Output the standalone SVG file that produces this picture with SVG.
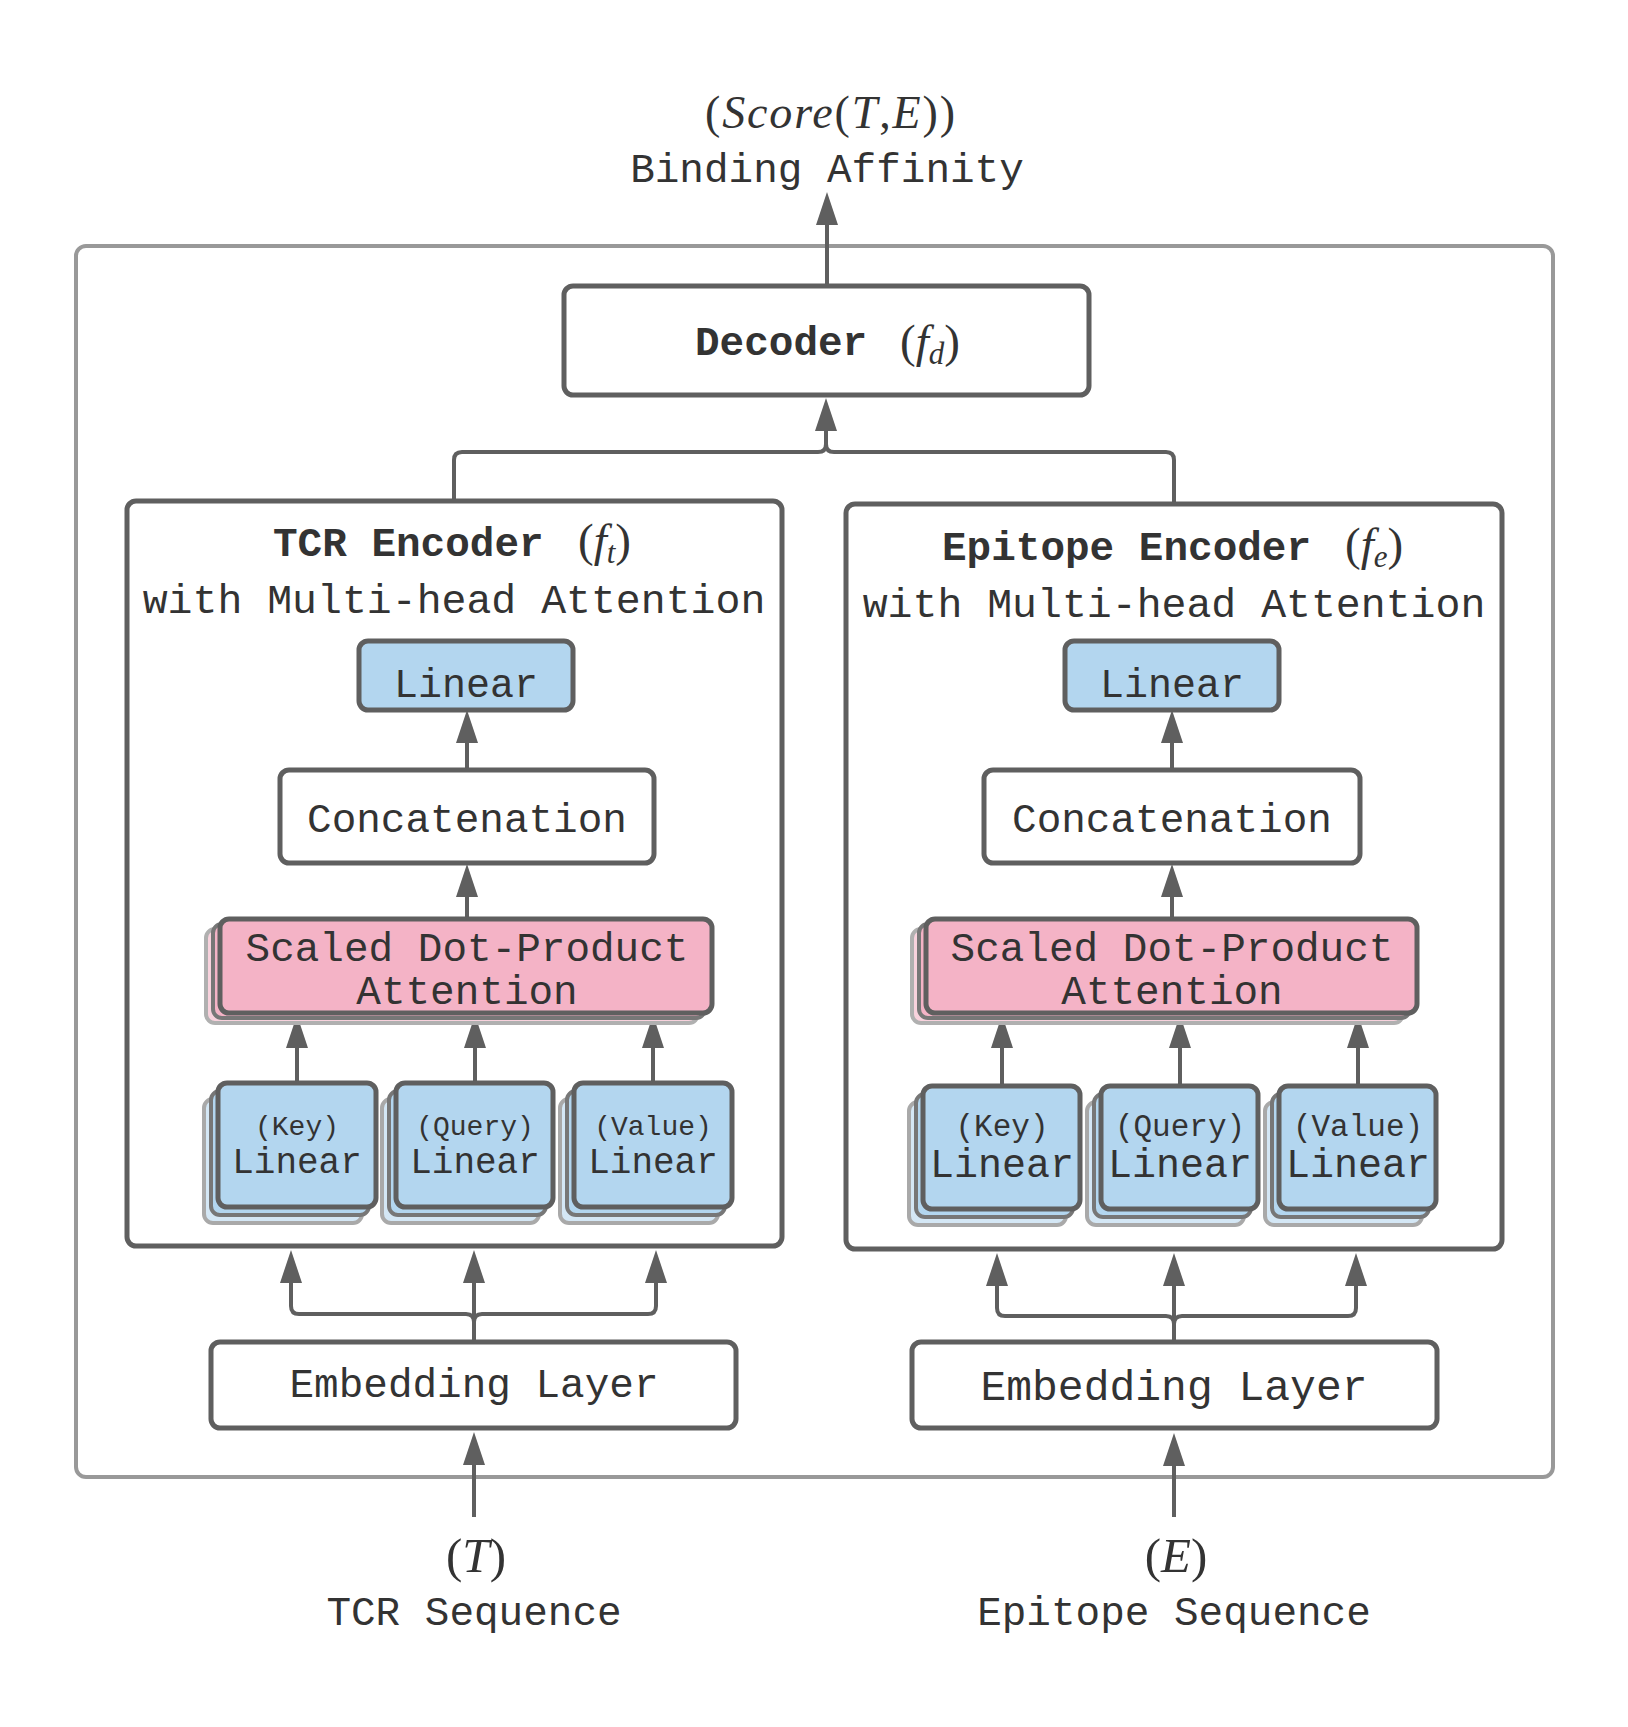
<svg xmlns="http://www.w3.org/2000/svg" width="1628" height="1727" viewBox="0 0 1628 1727">
<style>
  .mono { font-family: 'Liberation Mono', 'DejaVu Sans Mono', monospace; fill: #333333; }
  .bold { font-weight: bold; }
  .math { font-family: 'Liberation Serif', 'DejaVu Serif', serif; font-style: italic; fill: #333333; }
  .up { font-style: normal; }
  .container { fill: none; stroke: #5f5f5f; stroke-width: 5; }
  .node { fill: #ffffff; stroke: #5f5f5f; stroke-width: 5; }
  .blue { fill: #b3d6ef; stroke: #5f5f5f; stroke-width: 5; }
  .blue2 { fill: #b3d6ef; stroke: #777777; stroke-width: 4; }
  .blue3 { fill: #d4e7f5; stroke: #a9a9a9; stroke-width: 4; }
  .pink { fill: #f4b3c6; stroke: #5f5f5f; stroke-width: 5; }
  .pink2 { fill: #f4b3c6; stroke: #777777; stroke-width: 4; }
  .pink3 { fill: #f8d2dd; stroke: #b0b0b0; stroke-width: 4; }
  .edge { fill: none; stroke: #5f5f5f; stroke-width: 4; marker-end: url(#arr); }
  .plain { fill: none; stroke: #5f5f5f; stroke-width: 4; }
</style>
<defs>
  <marker id="arr" markerUnits="userSpaceOnUse" viewBox="0 0 33 22" markerWidth="33" markerHeight="22" refX="0" refY="11" orient="auto">
    <path d="M0,0 L33,11 L0,22 Z" fill="#5f5f5f"/>
  </marker>
</defs>
<rect width="1628" height="1727" fill="#ffffff"/>

<!-- outer frame -->
<g id="frame">
  <rect x="76" y="246" width="1477" height="1231" rx="10" fill="none" stroke="#999999" stroke-width="4"/>
</g>

<!-- connectors -->
<g id="connectors">
  <path class="edge" d="M827,286 V225"/>
  <path class="plain" d="M454,501 V460 Q454,452 462,452 H818 Q826,452 826,444 V431"/>
  <path class="edge" d="M1174,504 V460 Q1174,452 1166,452 H834 Q826,452 826,444 V431"/>
  <!-- TCR internals -->
  <path class="edge" d="M467,770 V743"/>
  <path class="edge" d="M467,919 V897"/>
  <path class="edge" d="M297,1083 V1048"/>
  <path class="edge" d="M475,1083 V1048"/>
  <path class="edge" d="M653,1083 V1048"/>
  <!-- TCR embedding to encoder -->
  <path class="edge" d="M474,1342 V1283"/>
  <path class="edge" d="M474,1342 V1322 Q474,1314 466,1314 H299 Q291,1314 291,1306 V1283"/>
  <path class="edge" d="M474,1342 V1322 Q474,1314 482,1314 H648 Q656,1314 656,1306 V1283"/>
  <path class="edge" d="M474,1517 V1465"/>
  <!-- Epitope internals -->
  <path class="edge" d="M1172,770 V743"/>
  <path class="edge" d="M1172,919 V897"/>
  <path class="edge" d="M1002,1086 V1048"/>
  <path class="edge" d="M1180,1086 V1048"/>
  <path class="edge" d="M1358,1086 V1048"/>
  <!-- Epitope embedding to encoder -->
  <path class="edge" d="M1174,1342 V1286"/>
  <path class="edge" d="M1174,1342 V1324 Q1174,1316 1166,1316 H1005 Q997,1316 997,1308 V1286"/>
  <path class="edge" d="M1174,1342 V1324 Q1174,1316 1182,1316 H1348 Q1356,1316 1356,1308 V1286"/>
  <path class="edge" d="M1174,1517 V1466"/>
</g>

<!-- output label -->
<g id="output">
  <text class="math" x="830" y="128" font-size="46" text-anchor="middle" textLength="250" lengthAdjust="spacing"><tspan class="up">(</tspan>Score<tspan class="up">(</tspan>T<tspan class="up">,</tspan>E<tspan class="up">))</tspan></text>
  <text class="mono" x="827" y="182" font-size="41" text-anchor="middle">Binding Affinity</text>
</g>

<!-- decoder -->
<g id="decoder">
  <rect class="node" x="564" y="286" width="525" height="109" rx="9"/>
  <text class="mono bold" x="695" y="355" font-size="41">Decoder</text>
  <text class="math" x="900" y="357" font-size="47"><tspan class="up">(</tspan>f<tspan font-size="31" dy="7">d</tspan><tspan class="up" dy="-7">)</tspan></text>
</g>

<!-- TCR encoder -->
<g id="tcr-encoder">
  <rect class="container" x="127" y="501" width="655" height="745" rx="9"/>
  <text class="mono bold" x="273" y="556" font-size="41">TCR Encoder</text>
  <text class="math" x="578" y="556" font-size="47"><tspan class="up">(</tspan>f<tspan font-size="31" dy="7">t</tspan><tspan class="up" dy="-7">)</tspan></text>
  <text class="mono" x="454" y="613" font-size="41.5" text-anchor="middle">with Multi-head Attention</text>
</g>
<g id="tcr-linear">
  <rect class="blue" x="359" y="641" width="214" height="69" rx="9"/>
  <text class="mono" x="466" y="697" font-size="40" text-anchor="middle">Linear</text>
</g>
<g id="tcr-concat">
  <rect class="node" x="280" y="770" width="374" height="93" rx="9"/>
  <text class="mono" x="467" y="832" font-size="41" text-anchor="middle">Concatenation</text>
</g>
<g id="tcr-attention">
  <rect class="pink3" x="206" y="929" width="492" height="94" rx="9"/>
  <rect class="pink2" x="213" y="924" width="492" height="94" rx="9"/>
  <rect class="pink" x="220" y="919" width="492" height="94" rx="9"/>
  <text class="mono" x="467" y="961" font-size="41" text-anchor="middle">Scaled Dot-Product</text>
  <text class="mono" x="467" y="1004" font-size="41" text-anchor="middle">Attention</text>
</g>
<g id="tcr-key">
  <rect class="blue3" x="204" y="1099" width="158" height="124" rx="9"/>
  <rect class="blue2" x="211" y="1091" width="158" height="124" rx="9"/>
  <rect class="blue" x="218" y="1083" width="158" height="124" rx="9"/>
  <text class="mono" x="297" y="1135" font-size="28" text-anchor="middle">(Key)</text>
  <text class="mono" x="297" y="1173" font-size="36" text-anchor="middle">Linear</text>
</g>
<g id="tcr-query">
  <rect class="blue3" x="382" y="1099" width="157" height="124" rx="9"/>
  <rect class="blue2" x="389" y="1091" width="157" height="124" rx="9"/>
  <rect class="blue" x="396" y="1083" width="157" height="124" rx="9"/>
  <text class="mono" x="475" y="1135" font-size="28" text-anchor="middle">(Query)</text>
  <text class="mono" x="475" y="1173" font-size="36" text-anchor="middle">Linear</text>
</g>
<g id="tcr-value">
  <rect class="blue3" x="560" y="1099" width="158" height="124" rx="9"/>
  <rect class="blue2" x="567" y="1091" width="158" height="124" rx="9"/>
  <rect class="blue" x="574" y="1083" width="158" height="124" rx="9"/>
  <text class="mono" x="653" y="1135" font-size="28" text-anchor="middle">(Value)</text>
  <text class="mono" x="653" y="1173" font-size="36" text-anchor="middle">Linear</text>
</g>
<g id="tcr-embedding">
  <rect class="node" x="211" y="1342" width="525" height="86" rx="9"/>
  <text class="mono" x="474" y="1397" font-size="41" text-anchor="middle">Embedding Layer</text>
</g>
<g id="tcr-input">
  <text class="math" x="476" y="1572" font-size="49" text-anchor="middle"><tspan class="up">(</tspan>T<tspan class="up">)</tspan></text>
  <text class="mono" x="474" y="1625" font-size="41" text-anchor="middle">TCR Sequence</text>
</g>

<!-- Epitope encoder -->
<g id="epitope-encoder">
  <rect class="container" x="846" y="504" width="656" height="745" rx="9"/>
  <text class="mono bold" x="942" y="560" font-size="41">Epitope Encoder</text>
  <text class="math" x="1345" y="560" font-size="47"><tspan class="up">(</tspan>f<tspan font-size="31" dy="7">e</tspan><tspan class="up" dy="-7">)</tspan></text>
  <text class="mono" x="1174" y="617" font-size="41.5" text-anchor="middle">with Multi-head Attention</text>
</g>
<g id="epitope-linear">
  <rect class="blue" x="1065" y="641" width="214" height="69" rx="9"/>
  <text class="mono" x="1172" y="697" font-size="40" text-anchor="middle">Linear</text>
</g>
<g id="epitope-concat">
  <rect class="node" x="984" y="770" width="376" height="93" rx="9"/>
  <text class="mono" x="1172" y="832" font-size="41" text-anchor="middle">Concatenation</text>
</g>
<g id="epitope-attention">
  <rect class="pink3" x="912" y="929" width="491" height="94" rx="9"/>
  <rect class="pink2" x="919" y="924" width="491" height="94" rx="9"/>
  <rect class="pink" x="926" y="919" width="491" height="94" rx="9"/>
  <text class="mono" x="1172" y="961" font-size="41" text-anchor="middle">Scaled Dot-Product</text>
  <text class="mono" x="1172" y="1004" font-size="41" text-anchor="middle">Attention</text>
</g>
<g id="epitope-key">
  <rect class="blue3" x="909" y="1102" width="157" height="123" rx="9"/>
  <rect class="blue2" x="916" y="1094" width="157" height="123" rx="9"/>
  <rect class="blue" x="923" y="1086" width="157" height="123" rx="9"/>
  <text class="mono" x="1002" y="1136" font-size="31" text-anchor="middle">(Key)</text>
  <text class="mono" x="1002" y="1177" font-size="40" text-anchor="middle">Linear</text>
</g>
<g id="epitope-query">
  <rect class="blue3" x="1087" y="1102" width="157" height="123" rx="9"/>
  <rect class="blue2" x="1094" y="1094" width="157" height="123" rx="9"/>
  <rect class="blue" x="1101" y="1086" width="157" height="123" rx="9"/>
  <text class="mono" x="1180" y="1136" font-size="31" text-anchor="middle">(Query)</text>
  <text class="mono" x="1180" y="1177" font-size="40" text-anchor="middle">Linear</text>
</g>
<g id="epitope-value">
  <rect class="blue3" x="1265" y="1102" width="157" height="123" rx="9"/>
  <rect class="blue2" x="1272" y="1094" width="157" height="123" rx="9"/>
  <rect class="blue" x="1279" y="1086" width="157" height="123" rx="9"/>
  <text class="mono" x="1358" y="1136" font-size="31" text-anchor="middle">(Value)</text>
  <text class="mono" x="1358" y="1177" font-size="40" text-anchor="middle">Linear</text>
</g>
<g id="epitope-embedding">
  <rect class="node" x="912" y="1342" width="525" height="86" rx="9"/>
  <text class="mono" x="1174" y="1400" font-size="43" text-anchor="middle">Embedding Layer</text>
</g>
<g id="epitope-input">
  <text class="math" x="1176" y="1572" font-size="49" text-anchor="middle"><tspan class="up">(</tspan>E<tspan class="up">)</tspan></text>
  <text class="mono" x="1174" y="1625" font-size="41" text-anchor="middle">Epitope Sequence</text>
</g>
</svg>
